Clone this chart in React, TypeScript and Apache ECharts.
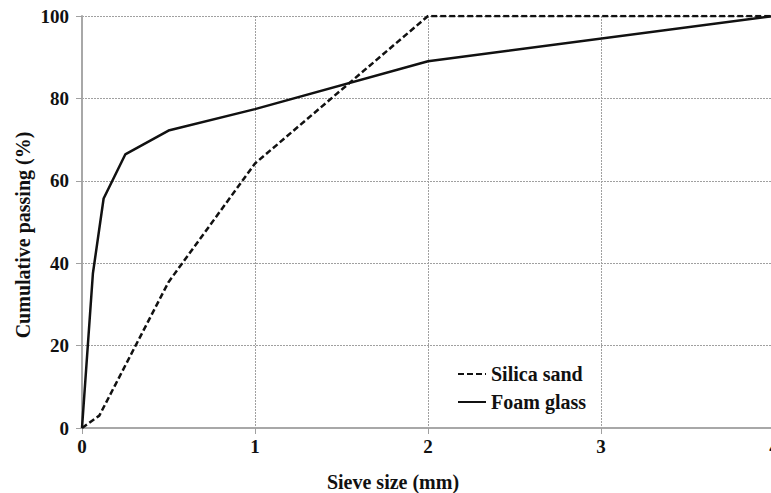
import React, { useEffect, useRef } from "react";
import * as echarts from "echarts";

const sieveSilica = [0, 0.1, 0.5, 1, 2, 4];
const passSilica = [0, 3, 35.4, 64.2, 100, 100];
const sieveFoam = [0, 0.063, 0.125, 0.25, 0.5, 1, 2, 4];
const passFoam = [0, 37.5, 55.7, 66.4, 72.2, 77.4, 89, 100];
const xTicks = [0, 1, 2, 3, 4];
const yTicks = [0, 20, 40, 60, 80, 100];
const seriesNames = ["Silica sand", "Foam glass"];

const FONT = "Liberation Serif";
const W = 790;

export default function App() {
  const ref = useRef<HTMLDivElement>(null);
  useEffect(() => {
    if (!ref.current) return;
    const chart = echarts.init(ref.current, undefined, {
      renderer: "svg",
      width: W,
      height: 493,
    });
    const pair = (xs: number[], ys: number[]) => xs.map((x, i) => [x, ys[i]]);
    chart.setOption({
      animation: false,
      backgroundColor: "#fff",
      textStyle: { fontFamily: FONT },
      grid: { left: 82, right: W - 774, top: 16, bottom: 65, containLabel: false },
      xAxis: {
        type: "value",
        min: xTicks[0],
        max: xTicks[xTicks.length - 1],
        interval: 1,
        axisLine: { show: true, lineStyle: { color: "#a8a8a8", width: 2 } },
        axisTick: { show: true, length: 6, lineStyle: { color: "#a0a0a0", width: 1 } },
        axisLabel: {
          margin: 9,
          color: "#111",
          fontFamily: FONT,
          fontWeight: "bold",
          fontSize: 19,
        },
        splitLine: { show: true, lineStyle: { color: "#a0a0a0", width: 1, type: [2, 1] } },
      },
      yAxis: {
        type: "value",
        min: yTicks[0],
        max: yTicks[yTicks.length - 1],
        interval: 20,
        axisLine: { show: true, lineStyle: { color: "#a8a8a8", width: 2 } },
        axisTick: { show: true, length: 6, lineStyle: { color: "#a0a0a0", width: 1 } },
        axisLabel: {
          margin: 13,
          color: "#111",
          fontFamily: FONT,
          fontWeight: "bold",
          fontSize: 19,
        },
        splitLine: { show: true, lineStyle: { color: "#a0a0a0", width: 1, type: [2, 1] } },
      },
      legend: {
        orient: "vertical",
        left: 452,
        top: 359,
        itemWidth: 28,
        itemHeight: 12,
        itemGap: 8,
        data: seriesNames,
        itemStyle: { opacity: 0, borderWidth: 0 },
        textStyle: {
          color: "#111",
          fontFamily: FONT,
          fontWeight: "bold",
          fontSize: 20,
          lineHeight: 20,
        },
      },
      graphic: [
        {
          type: "text",
          x: 393,
          y: 482,
          style: {
            text: "Sieve size (mm)",
            fill: "#111",
            fontFamily: FONT,
            fontWeight: "bold",
            fontSize: 20,
            align: "center",
            verticalAlign: "middle",
          },
        },
        {
          type: "text",
          x: 23,
          y: 235,
          rotation: Math.PI / 2,
          style: {
            text: "Cumulative passing (%)",
            fill: "#111",
            fontFamily: FONT,
            fontWeight: "bold",
            fontSize: 20,
            align: "center",
            verticalAlign: "middle",
          },
        },
      ],
      series: [
        {
          name: seriesNames[0],
          type: "line",
          data: pair(sieveSilica, passSilica),
          showSymbol: false,
          symbol: "none",
          lineStyle: { color: "#111", width: 2.5, type: [6, 3] },
          itemStyle: { color: "#111" },
          z: 3,
        },
        {
          name: seriesNames[1],
          type: "line",
          data: pair(sieveFoam, passFoam),
          showSymbol: false,
          symbol: "none",
          lineStyle: { color: "#111", width: 2.5, type: "solid" },
          itemStyle: { color: "#111" },
          z: 3,
        },
      ],
    });
    return () => chart.dispose();
  }, []);
  return (
    <div
      ref={ref}
      style={{ position: "fixed", left: 0, top: 0, width: W, height: 493 }}
    />
  );
}
